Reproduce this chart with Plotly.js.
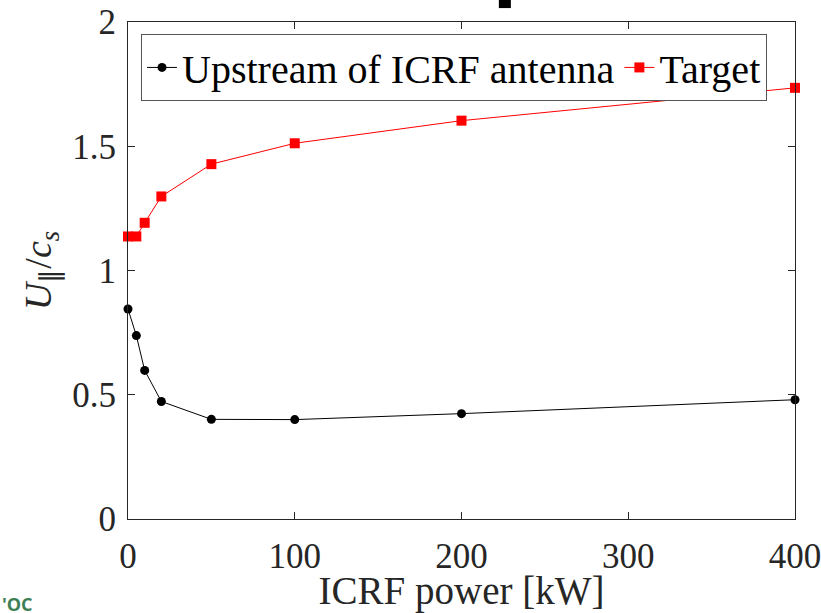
<!DOCTYPE html>
<html>
<head>
<meta charset="utf-8">
<script src="https://cdn.plot.ly/plotly-3.0.1.min.js"></script>
<style>
html,body{margin:0;padding:0;background:#fff;}
#chart{width:821px;height:613px;}
</style>
</head>
<body>
<div id="chart"></div>
<script>
// ICRF power [kW]
const power = [0, 5, 10, 20, 50, 100, 200, 400];
// U_par / c_s upstream of ICRF antenna
const upstream = [0.845, 0.738, 0.598, 0.473, 0.401, 0.400, 0.424, 0.480];
// U_par / c_s at target
const target = [1.137, 1.137, 1.192, 1.298, 1.428, 1.512, 1.603, 1.735];
const seriesNames = ["Upstream of ICRF antenna", "Target"];
const xTicks = [0, 100, 200, 300, 400];
const xTickText = ["0", "100", "200", "300", "400"];
const yTicks = [0, 0.5, 1, 1.5, 2];
const yTickText = ["0", "0.5", "1", "1.5", "2"];

const serif = "Liberation Serif";
const axisColor = "#262626";

const traces = [
  {x: power, y: upstream, name: seriesNames[0], type: "scatter", mode: "lines+markers",
   line: {color: "#000000", width: 1}, marker: {symbol: "circle", size: 9, color: "#000000"},
   cliponaxis: false},
  {x: power, y: target, name: seriesNames[1], type: "scatter", mode: "lines+markers",
   line: {color: "#ff0000", width: 1}, marker: {symbol: "square", size: 10, color: "#ff0000"},
   cliponaxis: false}
];

const axisCommon = {
  showgrid: false, zeroline: false, showline: true, linecolor: axisColor, linewidth: 1,
  mirror: "ticks", ticks: "inside", ticklen: 7, tickwidth: 1, tickcolor: axisColor,
  ticklabeloverflow: "allow",
  tickfont: {family: serif, size: 35, color: axisColor}
};

const layout = {
  width: 821, height: 613,
  font: {family: serif, size: 35, color: axisColor},
  margin: {l: 128, r: 26, t: 22, b: 94},
  paper_bgcolor: "#ffffff", plot_bgcolor: "#ffffff",
  showlegend: true,
  xaxis: Object.assign({}, axisCommon, {
    range: [0, 400], tickmode: "array", tickvals: xTicks, ticktext: xTickText,
    ticklabelstandoff: 6,
    title: {text: "ICRF power [kW]", font: {family: serif, size: 39, color: axisColor}, standoff: 6}
  }),
  yaxis: Object.assign({}, axisCommon, {
    range: [0, 2], tickmode: "array", tickvals: yTicks, ticktext: yTickText,
    ticklabelstandoff: 4,
    title: {text: "<i>U</i><sub>∥</sub>/<i>c</i><sub><i>s</i></sub>", font: {family: serif, size: 38, color: axisColor}, standoff: 8}
  }),
  legend: {
    orientation: "h", x: 0.0195, y: 0.976, xanchor: "left", yanchor: "top",
    bgcolor: "#ffffff", bordercolor: "#555555", borderwidth: 1,
    font: {family: serif, size: 40, color: "#000000"},
    itemwidth: 30, tracegroupgap: 0
  },
  shapes: [
    {type: "rect", xref: "paper", yref: "paper", x0: 0.556, x1: 0.574, y0: 1.028, y1: 1.05,
     fillcolor: "#000000", line: {width: 0}}
  ],
  annotations: [
    {xref: "paper", yref: "paper", x: -0.192, y: -0.171, xanchor: "left", yanchor: "middle",
     text: "<b>'OC</b>", showarrow: false, font: {family: "Open Sans", size: 18, color: "#3d7f55"}}
  ]
};

function forceSerif() {
  document.querySelectorAll("#chart svg text").forEach(function (t) {
    if (t.classList.contains("annotation-text")) return;
    t.style.setProperty("font-family", "'Liberation Serif', serif", "important");
  });
}

const gd = document.getElementById("chart");
Plotly.newPlot(gd, traces, layout, {displayModeBar: false, staticPlot: true}).then(function () {
  forceSerif();
  gd.on && gd.on("plotly_afterplot", forceSerif);
});
</script>
</body>
</html>
